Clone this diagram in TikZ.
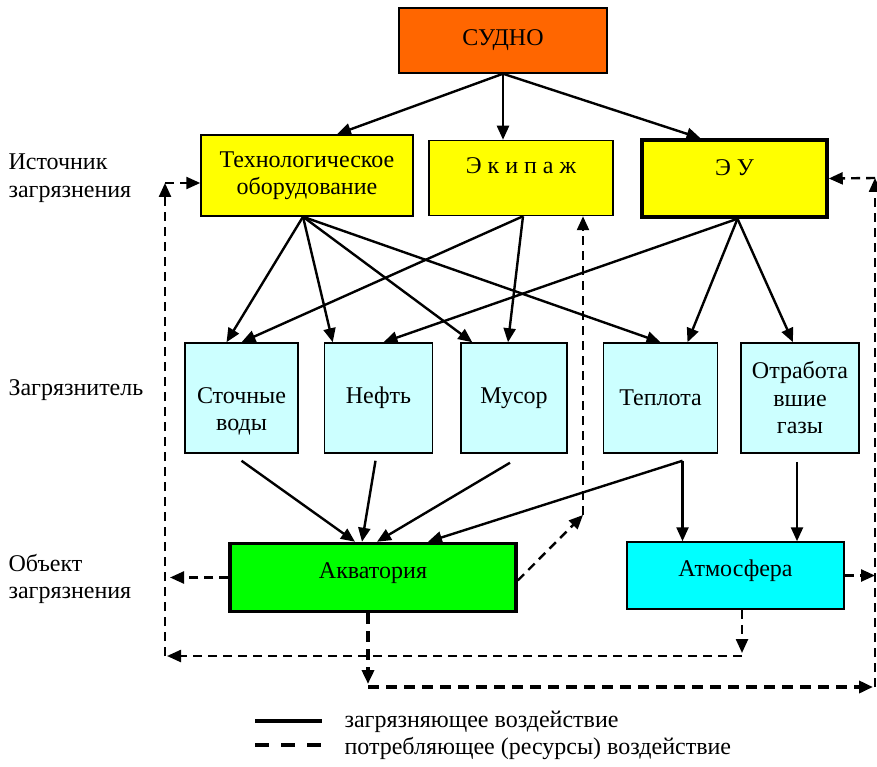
\documentclass[tikz,border=0pt]{standalone}
\usepackage{fontspec}
\setmainfont{Liberation Serif}
\usetikzlibrary{arrows.meta,positioning}
\definecolor{shiporange}{RGB}{255,102,0}
\definecolor{srcyellow}{RGB}{255,255,0}
\definecolor{paleaqua}{RGB}{204,255,255}
\definecolor{waterfill}{RGB}{0,255,0}
\definecolor{airfill}{RGB}{0,255,255}

\begin{document}
\begin{tikzpicture}[x=1pt,y=-1pt,>={Triangle[length=14pt,width=12pt]},line width=2.4pt,node distance=26pt,font=\fontsize{24}{27.5}\selectfont]
\tikzstyle{srcbox}=[draw,line width=1.5pt,fill=srcyellow,align=center]
\tikzstyle{polbox}=[draw,line width=1.5pt,fill=paleaqua,minimum height=110pt,align=center]
\tikzstyle{objbox}=[draw,line width=3.5pt,minimum height=68pt,text height=16pt,text depth=15pt]
\tikzstyle{consume}=[->,dash pattern=on 9pt off 6pt]
\tikzstyle{consumeheavy}=[->,line width=3.5pt,dash pattern=on 11pt off 7pt]
\useasboundingbox (0,0) rectangle (877,767);
\node[draw,line width=1.5pt,fill=shiporange,minimum width=208pt,minimum height=65pt] (sudno) at (503,40.5) {СУДНО};
\node[srcbox,minimum width=212pt,minimum height=81pt] (tech) at (307,175.5) {Технологическое\\оборудование};
\node[srcbox,minimum width=184pt,minimum height=75pt,text height=16pt,text depth=24pt] (crew) at (521,178) {Э к и п а ж};
\node[srcbox,line width=3.5pt,minimum width=185pt,minimum height=77pt,text height=16pt,text depth=22pt] (eu) at (734.5,178.5) {Э У};
\node[polbox,minimum width=113pt,text height=70pt] (sewage) at (241.5,398) {Сточные\\воды};
\node[polbox,minimum width=108pt,right=25pt of sewage] (oil) {Нефть};
\node[polbox,minimum width=106pt,right=27pt of oil] (trash) {Мусор};
\node[polbox,minimum width=114pt,right=35pt of trash] (heat) {Теплота};
\node[polbox,minimum width=118pt,right=22pt of heat] (gas) {Отработа\\вшие\\газы};
\node[objbox,fill=waterfill,minimum width=286pt] (water) at (373,577.5) {Акватория};
\node[objbox,line width=1.5pt,fill=airfill,minimum width=217pt,minimum height=67pt] (air) at (735.5,575.5) {Атмосфера};
\node[anchor=west,align=left] (lsrc) at (4,178) {Источник\\загрязнения};
\node[anchor=west] (lpol) at (4,390) {Загрязнитель};
\node[anchor=west,align=left] (lobj) at (4,579) {Объект\\загрязнения};
\draw[->] (sudno.south) -- ([xshift=30pt]tech.north);
\draw[->] (sudno.south) -- (sudno.south |- crew.north);
\draw[->] (sudno.south) -- ([xshift=-34pt]eu.north);
\draw[->] ([xshift=-4pt]tech.south) -- ([xshift=-15pt]sewage.north);
\draw[->] ([xshift=-4pt]tech.south) -- ([xshift=9pt]oil.north west);
\draw[->] ([xshift=-4pt]tech.south) -- ([xshift=12pt]trash.north west);
\draw[->] ([xshift=-4pt]tech.south) -- (heat.north);
\draw[->] ([xshift=2pt]crew.south) -- (sewage.north);
\draw[->] ([xshift=2pt]crew.south) -- ([xshift=-6pt]trash.north);
\draw[->] ([xshift=3pt]eu.south) -- ([xshift=5pt]oil.north);
\draw[->] ([xshift=3pt]eu.south) -- ([xshift=27pt]heat.north);
\draw[->] ([xshift=3pt]eu.south) -- ([xshift=-7pt]gas.north);
\coordinate (hs) at ([xshift=22pt,yshift=-7pt]heat.south);
\draw[->] ([yshift=-7pt]sewage.south) -- ([xshift=-18pt]water.north);
\draw[->] ([xshift=-3pt,yshift=-7pt]oil.south) -- ([xshift=-11pt]water.north);
\draw[->] ([xshift=-4pt,yshift=-9pt]trash.south) -- ([xshift=4pt]water.north);
\draw[->] (hs) -- ([xshift=55pt]water.north);
\draw[->] (hs) -- (hs |- air.north);
\draw[->] ([xshift=-3pt,yshift=-8pt]gas.south) -- ([xshift=-3pt]gas.south |- air.north);
\coordinate (cw) at (583,515);
\coordinate (lb) at (165,656);
\coordinate (lt) at (165,183);
\coordinate (ab) at (742,656);
\coordinate (wb) at (368,687);
\coordinate (rb) at (875,687);
\coordinate (rt) at (875,178);
\draw[consume] ([yshift=-3pt]water.east) -- (cw);
\draw[consume] (cw) -- (cw |- crew.south);
\draw[consume] (water.west) -- ([xshift=5pt]water.west -| lb);
\draw[consume] ([xshift=6.5pt]air.south) -- ([yshift=3pt]ab);
\draw[consume] (ab) -- ([xshift=2pt]lb);
\draw[consume] (lb) -- (lt);
\draw[consume] (lt) -- (lt -| tech.west);
\draw[consumeheavy] ([xshift=-5pt]water.south) -- ([yshift=3pt]wb);
\draw[consumeheavy] (wb) -- ([xshift=-2pt]rb);
\draw[consume] (rb) -- (rt);
\draw[consume] (rt) -- (eu.east);
\draw[consume] (air.east) -- (air.east -| rt);
\coordinate (ka) at (255,721);
\coordinate (kb) at (322,721);
\coordinate (kc) at (255,745);
\coordinate (kd) at (322,745);
\draw[line width=4pt] (ka) -- (kb);
\draw[line width=4.5pt,dash pattern=on 14pt off 12pt] (kc) -- (kd);
\node[anchor=west] (lsolid) at (340,722) {загрязняющее воздействие};
\node[anchor=west] (ldash) at (340,748) {потребляющее (ресурсы) воздействие};
\end{tikzpicture}
\end{document}
